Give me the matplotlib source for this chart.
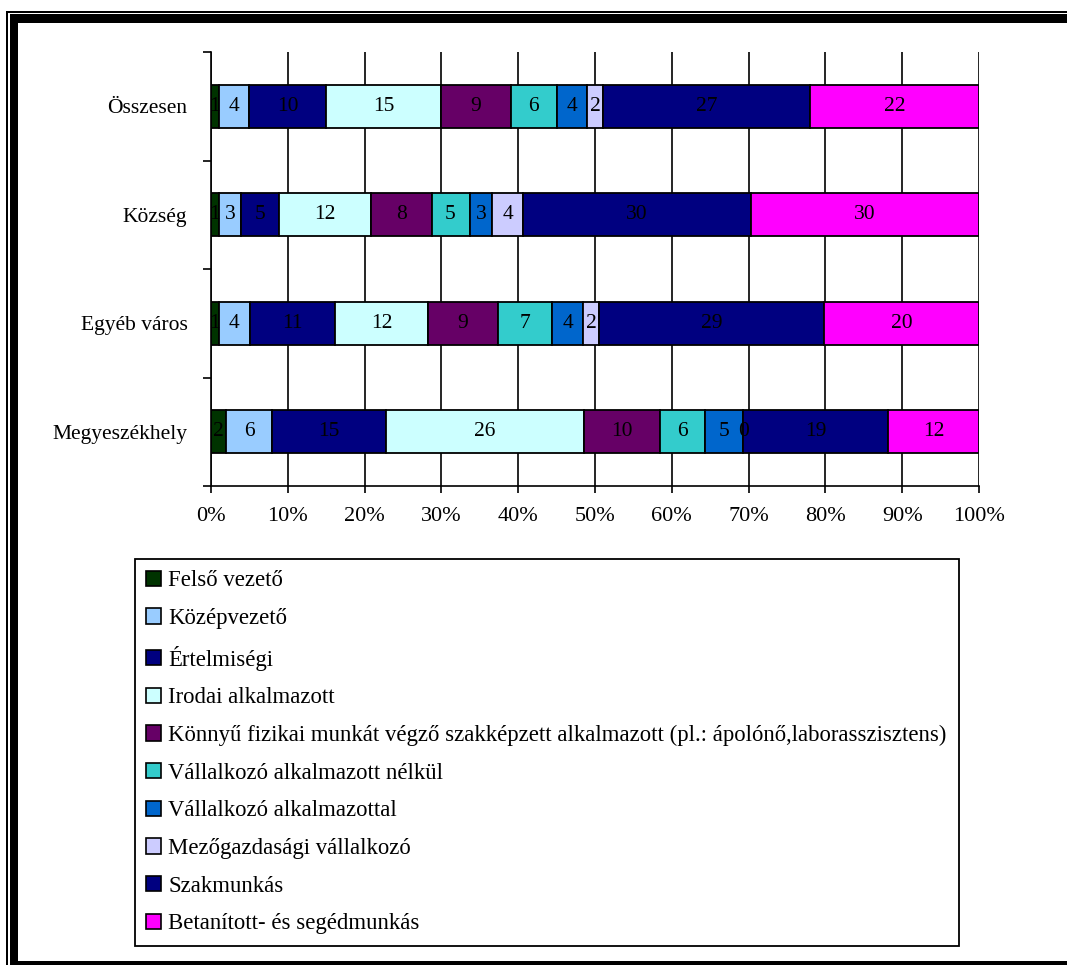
import numpy as np
import matplotlib
matplotlib.use('Agg')
import matplotlib.pyplot as plt
from matplotlib.patches import Rectangle, Patch

# Adatok (felülről lefelé: Összesen, Község, Egyéb város, Megyeszékhely)
categories = ['Összesen', 'Község', 'Egyéb város', 'Megyeszékhely']
series = ['Felső vezető', 'Középvezető', 'Értelmiségi', 'Irodai alkalmazott',
          'Könnyű fizikai munkát végző szakképzett alkalmazott (pl.: ápolónő,laborasszisztens)',
          'Vállalkozó alkalmazott nélkül', 'Vállalkozó alkalmazottal',
          'Mezőgazdasági vállalkozó', 'Szakmunkás', 'Betanított- és segédmunkás']
osszesen = [1, 4, 10, 15, 9, 6, 4, 2, 27, 22]
kozseg = [1, 3, 5, 12, 8, 5, 3, 4, 30, 30]
egyeb_varos = [1, 4, 11, 12, 9, 7, 4, 2, 29, 20]
megyeszekhely = [2, 6, 15, 26, 10, 6, 5, 0, 19, 12]
colors = ['#003300', '#99CCFF', '#000080', '#CCFFFF', '#660066',
          '#33CCCC', '#0066CC', '#CCCCFF', '#000080', '#FF00FF']
xtick_labels = ['0%', '10%', '20%', '30%', '40%', '50%', '60%', '70%', '80%', '90%', '100%']

plt.rcParams['font.family'] = ['Liberation Serif', 'DejaVu Serif']

W, H = 1067, 965
fig = plt.figure(figsize=(W / 100, H / 100), dpi=100)

# Keret (bal, felső, alsó)
def px_rect(x, y, w, h):
    fig.add_artist(Rectangle((x / W, 1 - (y + h) / H), w / W, h / H,
                             transform=fig.transFigure, facecolor='black',
                             edgecolor='none', zorder=0))

px_rect(6, 11, W - 6, 1.5)      # vékony felső
px_rect(6, 11, 1.5, H - 11)     # vékony bal
px_rect(10, 13.5, W - 10, 9)    # vastag felső
px_rect(10, 13.5, 8, H - 13.5)  # vastag bal
px_rect(10, 961.5, W - 10, 4)   # vastag alsó

ax = fig.add_axes([211 / W, 1 - 486 / H, 768 / W, 434 / H])

data = [osszesen, kozseg, egyeb_varos, megyeszekhely]
ypos = np.arange(len(categories))[::-1]  # Összesen legfelül

for row, y in zip(data, ypos):
    vals = np.array(row, dtype=float)
    pct = vals / vals.sum() * 100
    left = 0.0
    for i, (v, p) in enumerate(zip(vals, pct)):
        ax.barh(y, p, left=left, height=0.4, color=colors[i],
                edgecolor='black', linewidth=1.3, zorder=3)
        ax.text(left + p / 2, y, f'{int(v)}', ha='center', va='center',
                fontsize=15.5, color='black', zorder=4)
        left += p

ax.set_xlim(0, 100)
ax.set_ylim(-0.5, len(categories) - 0.5)

ax.set_xticks(np.arange(0, 101, 10))
ax.set_xticklabels(xtick_labels, fontsize=16)
ax.tick_params(axis='x', direction='out', length=5, width=1.2, pad=10)

ax.set_yticks(np.arange(-0.5, len(categories), 1.0))
ax.set_yticklabels([])
ax.set_yticks(ypos, minor=True)
ax.set_yticklabels(categories, minor=True, fontsize=15.5)
ax.tick_params(axis='y', which='major', direction='out', length=6, width=1.2)
ax.tick_params(axis='y', which='minor', length=0, pad=17)

ax.grid(axis='x', color='black', linewidth=1.2, zorder=0)
ax.set_axisbelow(True)
for s in ['top', 'right']:
    ax.spines[s].set_visible(False)
for s in ['left', 'bottom']:
    ax.spines[s].set_linewidth(1.2)
    ax.spines[s].set_zorder(5)

# Jelmagyarázat
handles = [Patch(facecolor=c, edgecolor='black', linewidth=1.2) for c in colors]
leg = fig.legend(handles, series, loc='upper left',
                 bbox_to_anchor=(135 / W, 1 - 559 / H, 824 / W, 0.0),
                 mode='expand', borderaxespad=0, fontsize=16.4,
                 handlelength=0.65, handleheight=0.65, handletextpad=0.3,
                 labelspacing=0.73, borderpad=0.5, fancybox=False,
                 frameon=True, edgecolor='black', framealpha=1)
leg.get_frame().set_linewidth(1.3)

fig.savefig('out.png', dpi=100)
